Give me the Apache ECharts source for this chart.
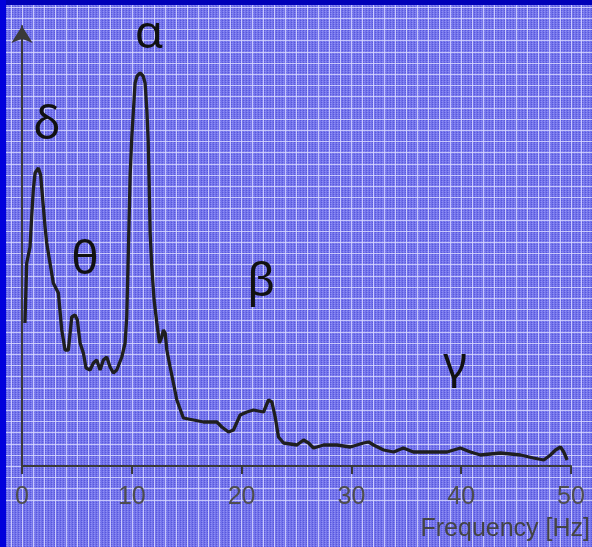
<!DOCTYPE html>
<html>
<head>
<meta charset="utf-8">
<script src="https://cdn.jsdelivr.net/npm/echarts@6/dist/echarts.min.js"></script>
<style>
html,body{margin:0;padding:0;}
#chart{width:592px;height:547px;}
</style>
</head>
<body>
<div id="chart"></div>
<script>
// ---- data (frequency in Hz, relative power) ----
const freq = [0.27,0.43,0.73,0.88,1.03,1.19,1.49,1.70,1.89,2.10,2.25,2.55,2.85,3.31,3.62,3.92,4.22,4.38,4.53,4.83,5.04,5.29,5.59,5.83,6.20,6.50,6.81,7.11,7.41,7.72,8.02,8.32,8.63,9.09,9.39,9.54,9.69,9.85,10.00,10.15,10.30,10.48,10.76,11.03,11.21,11.37,11.49,11.58,11.67,11.82,12.03,12.28,12.52,12.73,12.88,13.04,13.19,13.49,13.79,14.10,14.70,15.62,16.53,17.75,18.20,18.81,19.26,19.87,20.48,21.08,22.00,22.45,22.76,23.06,23.36,23.82,25.04,25.64,26.10,26.55,27.47,28.69,29.90,31.11,31.57,32.02,32.94,33.85,34.73,35.64,37.19,38.71,39.93,40.84,41.75,43.57,45.40,46.58,47.52,48.13,48.59,49.04,49.34,49.65];
const power = [143,203,219,249,276,293,298,291,266,239,223,203,183,173,136,116,116,133,149,151,146,123,113,98,96,103,106,96,106,109,99,93,96,109,123,149,216,291,329,356,383,390,393,390,383,356,326,283,233,199,166,143,123,129,136,133,116,99,83,66,48,46,44,44,39,34,36,51,54,56,54,66,64,49,29,23,21,26,23,18,21,21,19,23,24,21,16,14,18,14,14,14,18,14,11,13,11,8,6,11,16,19,14,6];
const xTicks = [0,10,20,30,40,50];
const bandLabels = ['δ','θ','α','β','γ'];
const bandPos = [[47,126],[85,261],[149,35],[261,283],[455,366]];
const axisTitle = 'Frequency [Hz]';

// ---- background texture ----
function makeBg(){
  const W=592,H=547;
  const c=document.createElement('canvas'); c.width=W; c.height=H;
  const g=c.getContext('2d');
  const img=g.createImageData(W,H); const d=img.data;
  for(let y=0;y<H;y++){
    for(let x=0;x<W;x++){
      const i=(y*W+x)*4;
      let r=116,gg=116,b=234;
      if((x%3===0)&&(y%2===0)){r=86;gg=86;b=222;}
      else if((x%3===1)&&(y%2===1)){r=142;gg=142;b=244;}
      d[i]=r;d[i+1]=gg;d[i+2]=b;d[i+3]=255;
    }
  }
  g.putImageData(img,0,0);
  g.fillStyle='rgba(220,220,255,0.8)';
  for(let k=-3;k<60;k++){
    const x=Math.round(22+k*10.97);
    if(x>=0&&x<W) g.fillRect(x,0,1,H);
  }
  for(let k=-3;k<60;k++){
    const y=Math.round(466-k*11.2);
    if(y>=0&&y<H) g.fillRect(0,y,W,1);
  }
  g.fillStyle='#0000b8'; g.fillRect(0,0,W,5);
  g.fillStyle='#0000dc'; g.fillRect(0,0,6,H);
  return c.toDataURL();
}
const el=document.getElementById('chart');
el.style.background='url('+makeBg()+') no-repeat';

const chart=echarts.init(el,null,{renderer:'canvas'});
const data=freq.map((f,i)=>[f,power[i]]);
const axisColor='#3a3a3a';
chart.setOption({
  animation:false,
  backgroundColor:'transparent',
  grid:{left:22,right:21,top:26,bottom:81},
  xAxis:{
    type:'value',min:0,max:50,interval:10,
    axisLine:{show:true,onZero:false,lineStyle:{color:axisColor,width:2}},
    axisTick:{show:true,length:8,lineStyle:{color:axisColor,width:2}},
    axisLabel:{color:'#4e4e4e',fontSize:25,margin:19,fontFamily:'Liberation Sans',
      formatter:v=>xTicks.includes(v)?String(v):''},
    splitLine:{show:false}
  },
  yAxis:{
    type:'value',min:0,max:440,
    axisLine:{show:true,symbol:['none','arrow'],symbolSize:[16,17],lineStyle:{color:axisColor,width:2}},
    axisTick:{show:false},axisLabel:{show:false},splitLine:{show:false}
  },
  series:[{
    type:'line',data:data,showSymbol:false,
    lineStyle:{color:'#1f1f1f',width:3.3},
    z:3
  }],
  graphic:[
    ...bandLabels.map((t,i)=>({
      type:'text',x:bandPos[i][0],y:bandPos[i][1],
      style:{text:t,align:'center',verticalAlign:'middle',
        font:'46px "Noto Sans"',fill:'#111'}
    })),
    {type:'text',x:590,y:529,
      style:{text:axisTitle,align:'right',verticalAlign:'middle',font:'25px "Liberation Sans"',fill:'#444'}}
  ]
});
</script>
</body>
</html>
